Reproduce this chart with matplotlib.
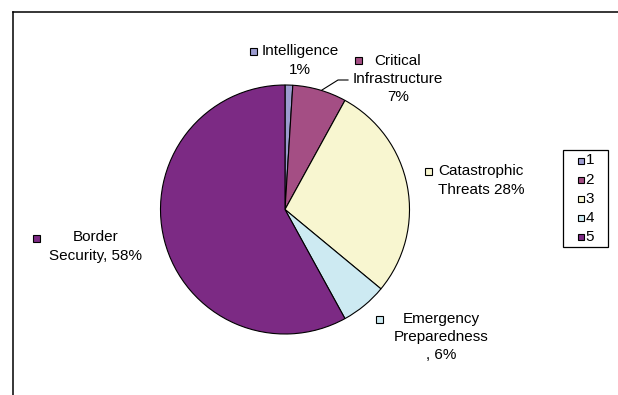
import matplotlib
matplotlib.use("Agg")
import matplotlib.pyplot as plt
from matplotlib.patches import Rectangle
from matplotlib.lines import Line2D

categories = ["Intelligence", "Critical Infrastructure", "Catastrophic Threats",
              "Emergency Preparedness", "Border Security"]
shares = [1, 7, 28, 6, 58]
legend_labels = ["1", "2", "3", "4", "5"]
slice_colors = ["#9C9CD0", "#A44E84", "#F8F6D0", "#CDEAF2", "#7C2A84"]

W, H = 618, 395
fig = plt.figure(figsize=(W / 100, H / 100), dpi=100)
fig.patch.set_facecolor("white")
plt.rcParams["font.family"] = ["Liberation Sans", "DejaVu Sans"]

def fx(px):
    return px / W

def fy(py):
    return 1 - py / H

def key_square(x, y, col, s=7):
    fig.add_artist(Rectangle((fx(x - s / 2), fy(y + s / 2)), s / W, s / H,
                             facecolor=col, edgecolor="black", lw=0.8))

# chart area frame (left and top edges)
fig.add_artist(Line2D([fx(13), fx(13)], [fy(395), fy(12)], color="black", lw=1.1))
fig.add_artist(Line2D([fx(13), fx(618)], [fy(12), fy(12)], color="black", lw=1.1))

# pie
cx, cy, r = 285, 209.5, 124.5
ax = fig.add_axes([fx(cx - r), fy(cy + r), (2 * r) / W, (2 * r) / H])
wedges, _ = ax.pie(shares, colors=slice_colors, startangle=90, counterclock=False,
                   wedgeprops=dict(edgecolor="black", linewidth=0.8))
ax.set_xlim(-1, 1)
ax.set_ylim(-1, 1)
ax.set_aspect("auto")
ax.axis("off")

# data labels with colour keys
fs = 11
labels = [
    ("Intelligence\n{}%".format(shares[0]), 300, 60.5, 253, 51),
    ("Critical\nInfrastructure\n{}%".format(shares[1]), 398, 79, 358, 60),
    ("Catastrophic\nThreats {}%".format(shares[2]), 481, 180.5, 428, 171),
    ("Emergency\nPreparedness\n, {}%".format(shares[3]), 441, 337, 380, 319),
    ("Border\nSecurity, {}%".format(shares[4]), 96, 246.5, 36, 238),
]
for (txt, tx, ty, sx, sy), col in zip(labels, slice_colors):
    fig.text(fx(tx), fy(ty), txt, ha="center", va="center", fontsize=fs,
             linespacing=1.38, color="black")
    key_square(sx, sy, col)

# leader line for the Critical Infrastructure label
fig.add_artist(Line2D([fx(322), fx(338), fx(348)], [fy(90), fy(80), fy(80)],
                      color="black", lw=0.8))

# legend box
fig.add_artist(Rectangle((fx(563), fy(247)), 45 / W, 97 / H, facecolor="white",
                         edgecolor="black", lw=0.9))
for i, (lab, col) in enumerate(zip(legend_labels, slice_colors)):
    y = 160.5 + i * 19.2
    key_square(580.5, y, col, s=6)
    fig.text(fx(585.5), fy(y), lab, ha="left", va="center", fontsize=11)

fig.savefig("out.png", dpi=100, facecolor="white")
